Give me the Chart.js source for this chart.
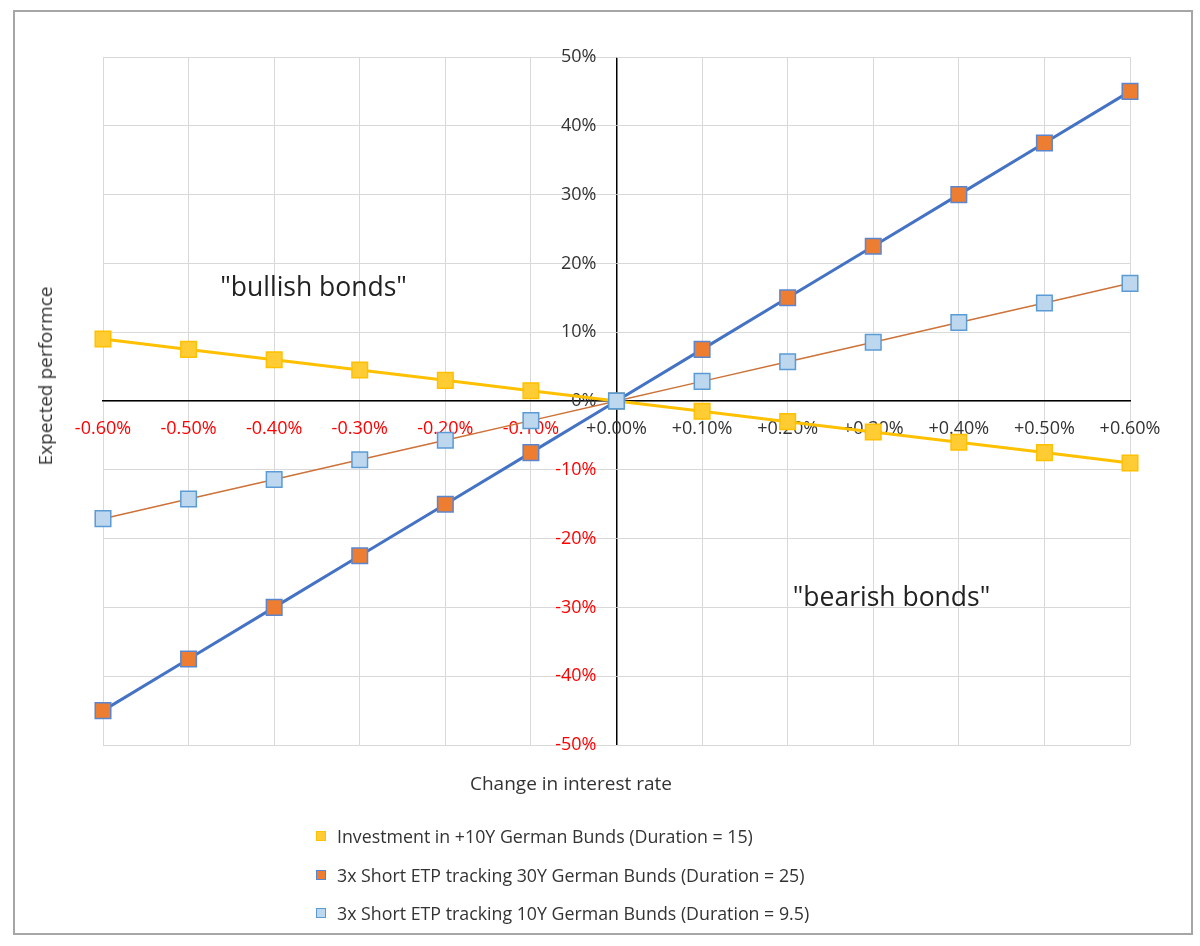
<!DOCTYPE html>
<html>
<head>
<meta charset="utf-8">
<title>Expected performance vs change in interest rate</title>
<script src="https://cdn.jsdelivr.net/npm/chart.js@4.4.1/dist/chart.umd.min.js"></script>
<style>
  html, body { margin: 0; padding: 0; background: #fff; }
  #wrap { position: relative; width: 1200px; height: 946px; font-family: 'Open Sans', sans-serif; color: #333; overflow: hidden; }
  #frame { position: absolute; left: 13px; top: 10px; width: 1176px; height: 921px; border: 2px solid #a6a6a6; }
  canvas { position: absolute; left: 0; top: 0; }
  .axis-title { position: absolute; font-size: 19px; white-space: nowrap; }
  #yTitle { left: 45px; top: 376px; transform: translate(-50%, -50%) rotate(-90deg); }
  #xTitle { left: 571px; top: 783px; transform: translate(-50%, -50%); }
  #legend { position: absolute; left: 316px; top: 817px; list-style: none; margin: 0; padding: 0; font-size: 17.8px; }
  #legend li { display: flex; align-items: center; height: 38.5px; white-space: nowrap; }
  #legend .box { width: 8px; height: 8px; margin-right: 11px; border: 1.5px solid; }
</style>
</head>
<body>
<div id="wrap">
  <div id="frame"></div>
  <canvas id="chart" width="1200" height="946"></canvas>
  <div class="axis-title" id="yTitle">Expected performce</div>
  <div class="axis-title" id="xTitle">Change in interest rate</div>
  <ul id="legend"></ul>
</div>
<script>
'use strict';

// change in interest rate, in percentage points
const rateChange = [-0.6, -0.5, -0.4, -0.3, -0.2, -0.1, 0, 0.1, 0.2, 0.3, 0.4, 0.5, 0.6];

// expected performance, in %
const bundsLong  = [9, 7.5, 6, 4.5, 3, 1.5, 0, -1.5, -3, -4.5, -6, -7.5, -9];
const short30Y   = [-45, -37.5, -30, -22.5, -15, -7.5, 0, 7.5, 15, 22.5, 30, 37.5, 45];
const short10Y   = [-17.1, -14.25, -11.4, -8.55, -5.7, -2.85, 0, 2.85, 5.7, 8.55, 11.4, 14.25, 17.1];

const seriesNames = [
  'Investment in +10Y German Bunds (Duration = 15)',
  '3x Short ETP tracking 30Y German Bunds (Duration = 25)',
  '3x Short ETP tracking 10Y German Bunds (Duration = 9.5)'
];

const regionNames = ['"bullish bonds"', '"bearish bonds"'];

const FONT = "'Open Sans', sans-serif";
const TEXT = '#333333';
const RED = '#ff0000';
const GRID = '#d9d9d9';

const toPoints = values => values.map((v, i) => ({x: rateChange[i], y: v}));
const negRed = ctx => ctx.tick.value < 0 ? RED : TEXT;
const isZero = ctx => Math.abs(ctx.tick.value) < 1e-9;

// writes the two region captions at data coordinates
const regionLabels = {
  id: 'regionLabels',
  afterDatasetsDraw(chart, args, opts) {
    const {ctx, scales: {x, y}} = chart;
    ctx.save();
    ctx.font = opts.font;
    ctx.fillStyle = opts.color;
    ctx.textAlign = 'left';
    ctx.textBaseline = 'alphabetic';
    for (const item of opts.items)
      ctx.fillText(item.text, x.getPixelForValue(item.x), y.getPixelForValue(item.y));
    ctx.restore();
  }
};

const config = {
  type: 'line',
  data: {
    datasets: [{
      label: seriesNames[0],
      data: toPoints(bundsLong),
      borderColor: '#ffc000',
      borderWidth: 3,
      pointStyle: 'rect',
      pointRadius: 11,
      pointHoverRadius: 11,
      pointBackgroundColor: '#ffcd33',
      pointBorderColor: '#ffc000',
      pointBorderWidth: 1.5,
      clip: false,
      order: 3
    }, {
      label: seriesNames[1],
      data: toPoints(short30Y),
      borderColor: '#4472c4',
      borderWidth: 3,
      pointStyle: 'rect',
      pointRadius: 11,
      pointHoverRadius: 11,
      pointBackgroundColor: '#ed7d31',
      pointBorderColor: '#5b86cf',
      pointBorderWidth: 1.5,
      clip: false,
      order: 2
    }, {
      label: seriesNames[2],
      data: toPoints(short10Y),
      borderColor: '#cd7238',
      borderWidth: 1.5,
      pointStyle: 'rect',
      pointRadius: 11,
      pointHoverRadius: 11,
      pointBackgroundColor: '#bdd7ee',
      pointBorderColor: '#5b9bd5',
      pointBorderWidth: 1.5,
      clip: false,
      order: 1
    }]
  },
  options: {
    responsive: false,
    animation: false,
    layout: {padding: {left: 103, right: 70, top: 57, bottom: 201}},
    scales: {
      x: {
        type: 'linear',
        min: -0.6,
        max: 0.6,
        position: {y: 0},
        afterFit: s => { s.height = 0; },
        border: {color: '#000', width: 1.5},
        // the vertical line at 0 is the y axis line
        grid: {
          color: ctx => isZero(ctx) ? '#000' : GRID,
          lineWidth: ctx => isZero(ctx) ? 1.5 : 1,
          drawTicks: false
        },
        ticks: {
          stepSize: 0.1,
          maxTicksLimit: 20,
          autoSkip: false,
          maxRotation: 0,
          padding: 17,
          color: negRed,
          font: {family: FONT, size: 18},
          callback: v => (v >= 0 ? '+' : '') + v.toFixed(2) + '%'
        }
      },
      y: {
        type: 'linear',
        min: -50,
        max: 50,
        // labels sit a little left of the zero line
        position: {x: -0.0235},
        afterFit: s => { s.width = 0; },
        border: {display: false},
        grid: {color: GRID, lineWidth: 1, drawTicks: false},
        ticks: {
          stepSize: 10,
          color: negRed,
          font: {family: FONT, size: 18},
          callback: v => v + '%'
        }
      }
    },
    plugins: {
      legend: {display: false},
      tooltip: {enabled: false},
      regionLabels: {
        font: '26.5px ' + FONT,
        color: '#222',
        items: [
          {text: regionNames[0], x: -0.463, y: 15.3},
          {text: regionNames[1], x: 0.206, y: -29.8}
        ]
      }
    }
  },
  plugins: [regionLabels]
};

const chart = new Chart(document.getElementById('chart').getContext('2d'), config);

// legend as a vertical list, built from the library's own legend items
const items = chart.options.plugins.legend.labels.generateLabels(chart)
  .sort((a, b) => a.datasetIndex - b.datasetIndex);
const ul = document.getElementById('legend');
for (const item of items) {
  const li = document.createElement('li');
  const box = document.createElement('span');
  box.className = 'box';
  const ds = chart.data.datasets[item.datasetIndex];
  box.style.background = ds.pointBackgroundColor;
  box.style.borderColor = ds.pointBorderColor;
  li.appendChild(box);
  li.appendChild(document.createTextNode(item.text));
  ul.appendChild(li);
}
</script>
</body>
</html>
